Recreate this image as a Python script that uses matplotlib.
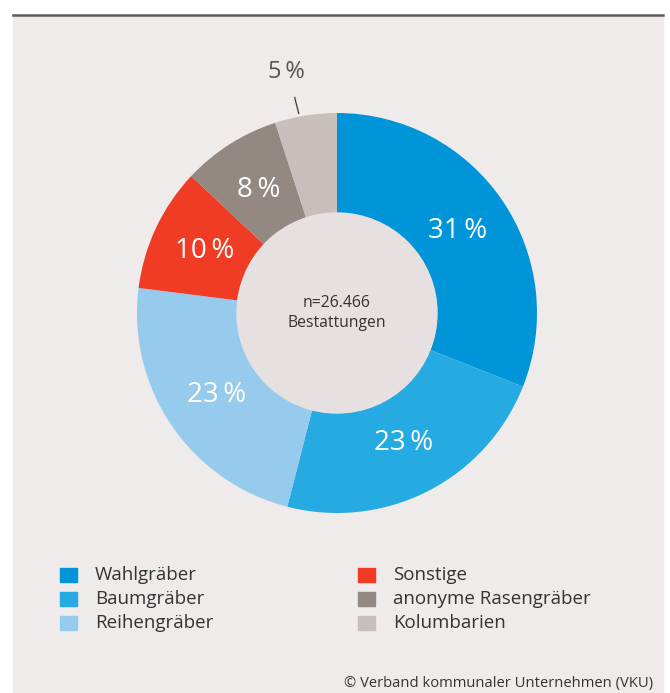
import matplotlib.pyplot as plt
from matplotlib.patches import Rectangle
from matplotlib.lines import Line2D
import numpy as np

plt.rcParams['font.family'] = ['Open Sans', 'DejaVu Sans']

labels = ['Wahlgräber', 'Baumgräber', 'Reihengräber', 'Sonstige',
          'anonyme Rasengräber', 'Kolumbarien']
values = [31, 23, 23, 10, 8, 5]
colors = ['#0095d8', '#25aae2', '#96cbee', '#f03c24', '#948882', '#c8bfbd']
pct_colors = ['white', 'white', 'white', 'white', 'white', '#555555']
center_text = 'n=26.466\nBestattungen'
source = '© Verband kommunaler Unternehmen (VKU)'

W, H = 670, 693
fig = plt.figure(figsize=(W / 100, H / 100), dpi=100, facecolor='white')

# panel background and top rule
fig.patches.append(Rectangle((13 / W, 0), 650 / W, (H - 16) / H,
                             transform=fig.transFigure, color='#efebea', zorder=-5))
fig.lines.append(Line2D([13 / W, 663 / W], [(H - 15) / H, (H - 15) / H],
                        transform=fig.transFigure, color='#5f5a5a', lw=1.8))

cx, cy, r = 337, 313, 200
ax = fig.add_axes([(cx - r) / W, (H - cy - r) / H, 2 * r / W, 2 * r / H])
ax.set_zorder(2)
wedges, _ = ax.pie(values, colors=colors, startangle=90, counterclock=False,
                   radius=1.0, wedgeprops=dict(width=0.5, linewidth=0))
ax.add_patch(plt.Circle((0, 0), 0.5, color='#e6e1e0', zorder=3))
ax.set_xlim(-1, 1)
ax.set_ylim(-1, 1)
ax.set_aspect('equal')
ax.axis('off')

ax.text(0, 0, center_text, ha='center', va='center', fontsize=11.3,
        color='#333333', linespacing=1.35, zorder=4)

cum = np.cumsum([0] + values)
for i, v in enumerate(values):
    mid = np.deg2rad(90 - (cum[i] + v / 2) * 3.6)
    if i == len(values) - 1:
        # small slice: label outside with a short leader line
        x0, y0 = 1.0 * np.cos(mid), 1.0 * np.sin(mid)
        ax.plot([x0 - 0.035, x0 - 0.055], [y0 + 0.01, y0 + 0.09], color='#3a3a3a',
                lw=0.9, clip_on=False)
        ax.text(x0 - 0.095, y0 + 0.215, f'{v}\u2009%', ha='center', va='center',
                fontsize=17, color=pct_colors[i])
    else:
        rr = 0.73
        ax.text(rr * np.cos(mid), rr * np.sin(mid), f'{v}\u2009%', ha='center',
                va='center', fontsize=20, color=pct_colors[i])

# legend, two columns
for i, (lab, col) in enumerate(zip(labels, colors)):
    colx = 60 if i < 3 else 358
    rowy = 575 + 24 * (i % 3)
    fig.patches.append(Rectangle((colx / W, (H - rowy - 7) / H), 17 / W, 14 / H,
                                 transform=fig.transFigure, color=col))
    fig.text((colx + 35) / W, (H - rowy) / H, lab, ha='left', va='center',
             fontsize=13.5, color='#333333')

fig.text(653 / W, (H - 683) / H, source, ha='right', va='center',
         fontsize=10.6, color='#333333')

fig.savefig('out.png', dpi=100, facecolor='white')
